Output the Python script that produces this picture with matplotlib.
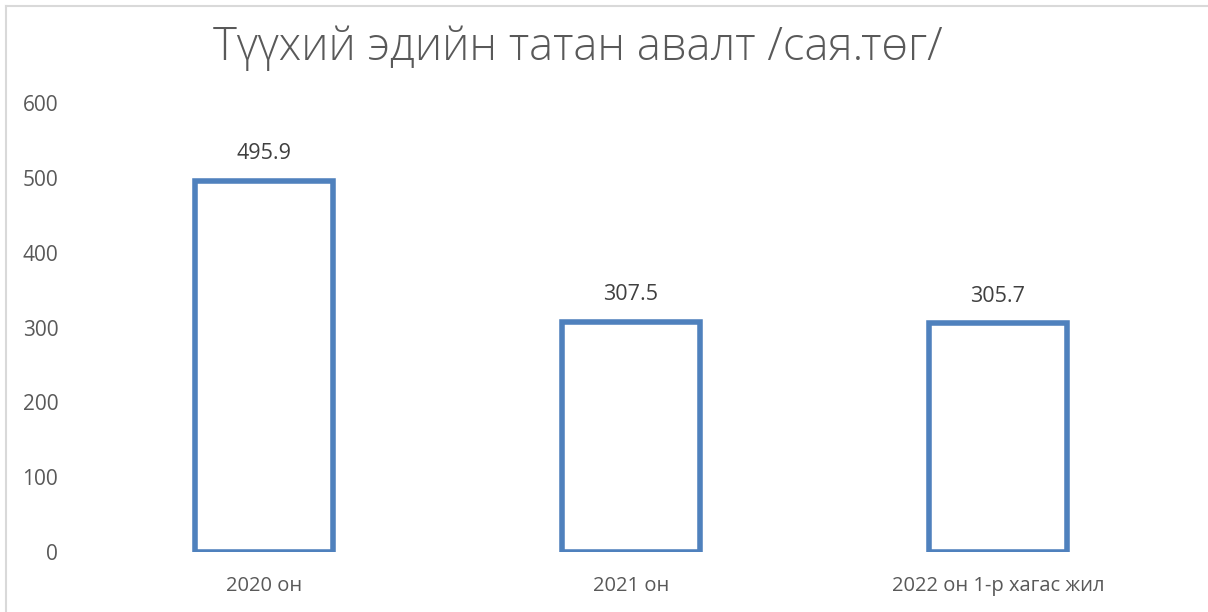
import matplotlib.pyplot as plt
from matplotlib.lines import Line2D

# data
categories = ["2020 он", "2021 он", "2022 он 1-р хагас жил"]
values = [495.9, 307.5, 305.7]
yticks = [0, 100, 200, 300, 400, 500, 600]

plt.rcParams['font.family'] = ['Open Sans', 'DejaVu Sans']

fig = plt.figure(figsize=(12.08, 6.12), dpi=100)
ax = fig.add_axes([0.0666, 0.098, 0.9114, 0.7337])

x = range(len(categories))
ax.bar(x, values, width=0.375, facecolor="white", edgecolor="#4F81BD", linewidth=4.0)

for xi, v in zip(x, values):
    ax.annotate(f"{v:.1f}", (xi, v), xytext=(0, 12), textcoords="offset points",
                ha="center", va="bottom", fontsize=15.5, color="#404040")

ax.set_xlim(-0.5, len(categories) - 0.5)
ax.set_ylim(0, 600)
ax.set_yticks(yticks)
ax.set_xticks(list(x))
ax.set_xticklabels(categories)
ax.tick_params(axis="both", length=0, labelcolor="#595959")
ax.tick_params(axis="y", pad=16, labelsize=15)
ax.tick_params(axis="x", pad=17, labelsize=14.5)
for s in ax.spines.values():
    s.set_visible(False)

fig.text(0.478, 0.921, "Түүхий эдийн татан авалт /сая.төг/", ha="center", va="center",
         fontsize=32.8, fontweight="light", color="#595959")

# thin frame on top and left like the spreadsheet chart area
fig.add_artist(Line2D([0.005, 1.0], [0.991, 0.991], color="#D9D9D9", linewidth=1.5))
fig.add_artist(Line2D([0.005, 0.005], [0.0, 0.991], color="#D9D9D9", linewidth=1.5))

plt.savefig("out.png", dpi=100)
